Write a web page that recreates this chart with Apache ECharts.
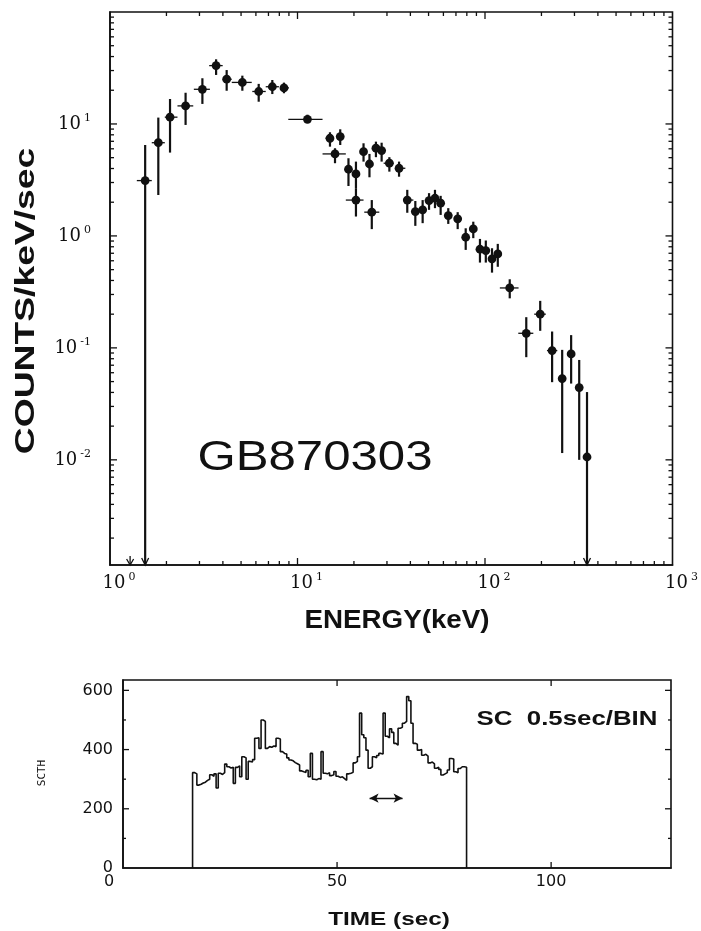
<!DOCTYPE html>
<html>
<head>
<meta charset="utf-8">
<title>GB870303</title>
<script src="https://cdn.jsdelivr.net/npm/echarts@6/dist/echarts.min.js"></script>
<style>
  html, body { margin: 0; padding: 0; background: #fff; }
  #chart { width: 701px; height: 931px; }
</style>
</head>
<body>
<div id="chart"></div>
<script>
// ---- Energy spectrum of GB870303 ----
// bin centre (keV), rate (counts/keV/sec), 1-sigma range, energy bin edges
const specEnergy = [1.54, 1.81, 2.09, 2.53, 3.11, 3.68, 4.19, 5.08, 6.21, 7.34, 8.47, 11.3,
  14.9, 15.85, 16.9, 18.7, 20.5, 20.5, 22.5, 24.2, 24.9, 26.2, 28.1, 30.9, 34.8, 38.5,
  42.5, 46.5, 50.3, 54.1, 58.0, 63.7, 71.5, 78.9, 86.6, 94.0, 101, 109, 117, 135.5,
  166, 197, 228, 258, 288, 318, 350];
const specRate = [3.12, 6.8, 11.5, 14.5, 20.4, 33.2, 25.1, 23.5, 19.5, 21.5, 21.0, 11.0,
  7.45, 5.4, 7.71, 3.94, 3.58, 2.09, 5.66, 4.39, 1.63, 6.07, 5.78, 4.46, 4.02, 2.09,
  1.65, 1.71, 2.07, 2.17, 1.96, 1.52, 1.42, 0.973, 1.155, 0.76, 0.74, 0.624, 0.69, 0.343,
  0.135, 0.2, 0.0946, 0.0532, 0.0883, 0.0442, 0.0106];
// null: the lower error reaches below the plotted range (drawn as an arrow)
const rateLow = [null, 2.32, 5.55, 9.8, 15.1, 27.4, 19.8, 19.8, 15.8, 18.5, 18.8, 10.2,
  6.27, 4.46, 6.49, 2.79, 2.67, 1.49, 4.61, 3.34, 1.15, 5.05, 4.61, 3.75, 3.38, 1.61,
  1.23, 1.30, 1.71, 1.77, 1.54, 1.28, 1.15, 0.75, 0.955, 0.578, 0.578, 0.47, 0.53, 0.277,
  0.0826, 0.142, 0.0494, 0.0115, 0.048, 0.01, null];
const rateHigh = [6.49, 11.4, 16.7, 19.0, 25.6, 37.8, 30.3, 27.0, 22.8, 24.7, 23.4, 12.1,
  8.43, 6.07, 8.96, 4.94, 4.61, 2.67, 6.72, 5.4, 2.09, 6.95, 6.8, 5.05, 4.61, 2.58,
  2.05, 2.09, 2.41, 2.58, 2.28, 1.77, 1.63, 1.17, 1.34, 0.94, 0.91, 0.776, 0.849, 0.41,
  0.188, 0.263, 0.14, 0.096, 0.13, 0.078, 0.0403];
const binLow = [1.39, 1.67, 1.96, 2.29, 2.80, 3.38, 3.99, 4.46, 5.74, 6.77, 8.07, 8.93,
  14.1, 13.6, 16.2, 18.0, 19.9, 18.1, 21.6, 23.2, 22.7, 25.0, 27.5, 28.8, 33.1, 36.9,
  42.5, 46.5, 50.3, 54.1, 58.0, 63.7, 71.5, 78.9, 86.6, 94.0, 101, 109, 117, 120,
  150.5, 183, 214, 258, 288, 318, 350];
const binHigh = [1.67, 1.96, 2.29, 2.78, 3.41, 3.99, 4.46, 5.70, 6.77, 7.96, 9.0, 13.6,
  15.6, 18.1, 17.6, 19.4, 21.4, 22.5, 23.3, 25.0, 27.3, 27.3, 28.7, 32.6, 37.6, 41.5,
  42.5, 46.5, 50.3, 54.1, 58.0, 63.7, 71.5, 78.9, 86.6, 94.0, 101, 109, 117, 151,
  181, 211, 243, 258, 288, 318, 350];
// channel with only an upper limit below the plotted range
const limitOnlyEnergy = [1.28];

const energyMin = 1, energyMax = 1000;
const rateMin = 0.00115, rateMax = 100;
const energyTicks = [10, 100];
const rateTicks = [0.01, 0.1, 1, 10];

// ---- Light curve, SC detector, 0.5 s bins ----
const curveStart = 16.25;
const binWidth = 0.5;
const curveCounts = [
  322, 318, 280, 283, 287, 290, 296, 300, 315, 310,
  318, 270, 320, 316, 322, 351, 342, 338, 340, 286,
  340, 345, 308, 376, 372, 300, 360, 358, 366, 438,
  440, 404, 500, 495, 404, 410, 408, 412, 410, 438,
  436, 393, 387, 385, 372, 365, 362, 356, 352, 348,
  328, 325, 323, 330, 308, 387, 300, 298, 302, 300,
  393, 320, 318, 322, 312, 315, 326, 310, 306, 308,
  302, 296, 318, 320, 323, 355, 360, 376, 523, 450,
  440, 398, 337, 342, 376, 372, 380, 387, 385, 523,
  445, 440, 470, 458, 421, 415, 472, 475, 489, 495,
  579, 565, 489, 421, 418, 398, 400, 381, 384, 378,
  355, 358, 352, 337, 340, 333, 314, 318, 322, 331,
  370, 368, 325, 322, 336, 342, 342, 340];
// interval used for the spectrum
const accumWindow = [57.6, 65.3];
const accumLevel = 236;

const timeMin = 0, timeMax = 128, timeStep = 50;
const countMin = 0, countMax = 635, countStep = 200;
const timeTicks = [50, 100];
const countTicks = [200, 400, 600];
const countMinorTicks = [100, 300, 500];

// ---- derived series data ----
const spectrumData = specEnergy.map((e, i) => [
  e, specRate[i], rateLow[i] == null ? 0 : rateLow[i], rateHigh[i], binLow[i], binHigh[i]
]);
const limitData = limitOnlyEnergy.map(e => [e, rateMin]);

// [x, y, side (0 = horizontal axes, 1 = vertical axes), tick length]
const specTickData = [];
energyTicks.forEach(v => specTickData.push([v, 1, 0, 7]));
rateTicks.forEach(v => specTickData.push([2, v, 1, 7]));
[1, 10, 100].forEach(d => { for (let m = 2; m <= 9; m++) specTickData.push([m * d, 1, 0, 4]); });
[0.001, 0.01, 0.1, 1, 10].forEach(d => {
  for (let m = 2; m <= 9; m++) { const v = m * d; if (v > rateMin) specTickData.push([2, v, 1, 4]); }
});
const curveTickData = [];
timeTicks.forEach(v => curveTickData.push([v, 300, 0, 6]));
countTicks.forEach(v => curveTickData.push([60, v, 1, 6]));
countMinorTicks.forEach(v => curveTickData.push([60, v, 1, 3]));

const curveData = [[curveStart, 0]];
curveCounts.forEach((c, i) => curveData.push([curveStart + i * binWidth, c]));
curveData.push([curveStart + curveCounts.length * binWidth, 0]);

// ---- drawing helpers ----
const INK = '#111';

function isDecade(v) {
  const l = Math.log10(v);
  return Math.abs(l - Math.round(l)) < 1e-6;
}
function energyLabel(v) {
  if (!isDecade(v)) return '';
  return '{sp| }{b|10}{s|' + Math.round(Math.log10(v)) + '}';
}
function rateLabel(v) {
  if (!isDecade(v) || v > 50) return '';
  return '{b|10}{s|' + Math.round(Math.log10(v)) + '}';
}
const powRich = {
  b: { fontFamily: '"DejaVu Serif", serif', fontSize: 18, color: INK, lineHeight: 22 },
  s: { fontFamily: '"DejaVu Serif", serif', fontSize: 11, color: INK, lineHeight: 11, verticalAlign: 'top', padding: [0, 0, 0, 3] },
  sp: { fontSize: 10, width: 18 }
};

function drawSpectrumPoint(params, api) {
  const cs = params.coordSys;
  const bottom = cs.y + cs.height;
  const e = api.value(0), r = api.value(1), lo = api.value(2), hi = api.value(3);
  const bl = api.value(4), bh = api.value(5);
  const c = api.coord([e, r]);
  const top = api.coord([e, hi])[1];
  const low = lo > 0 ? api.coord([e, lo])[1] : bottom;
  const kids = [{
    type: 'line', shape: { x1: c[0], y1: top, x2: c[0], y2: low },
    style: { stroke: INK, lineWidth: 2.2 }
  }];
  const xl = api.coord([bl, r])[0], xh = api.coord([bh, r])[0];
  if (xh - xl > 1) {
    kids.push({ type: 'line', shape: { x1: xl, y1: c[1], x2: xh, y2: c[1] },
      style: { stroke: INK, lineWidth: 1.3 } });
  }
  if (!(lo > 0)) {
    kids.push({ type: 'polyline',
      shape: { points: [[c[0] - 3.5, bottom - 7], [c[0], bottom], [c[0] + 3.5, bottom - 7]] },
      style: { stroke: INK, lineWidth: 1.3, fill: null } });
  }
  kids.push({ type: 'circle', shape: { cx: c[0], cy: c[1], r: 4.4 }, style: { fill: INK } });
  return { type: 'group', children: kids };
}

function drawLimitArrow(params, api) {
  const p = api.coord([api.value(0), api.value(1)]);
  return { type: 'group', children: [
    { type: 'line', shape: { x1: p[0], y1: p[1] - 9, x2: p[0], y2: p[1] }, style: { stroke: INK, lineWidth: 1.3 } },
    { type: 'polyline', shape: { points: [[p[0] - 3.5, p[1] - 6], [p[0], p[1]], [p[0] + 3.5, p[1] - 6]] },
      style: { stroke: INK, lineWidth: 1.3, fill: null } }
  ] };
}

// inward ticks on both opposite sides of the frame
function drawFrameTick(params, api) {
  const cs = params.coordSys;
  const p = api.coord([api.value(0), api.value(1)]);
  const side = api.value(2), len = api.value(3);
  const st = { stroke: INK, lineWidth: 1.3 };
  if (side === 0) {
    const b = cs.y + cs.height;
    return { type: 'group', children: [
      { type: 'line', shape: { x1: p[0], y1: b, x2: p[0], y2: b - len }, style: st },
      { type: 'line', shape: { x1: p[0], y1: cs.y, x2: p[0], y2: cs.y + len }, style: st }
    ] };
  }
  const r = cs.x + cs.width;
  return { type: 'group', children: [
    { type: 'line', shape: { x1: cs.x, y1: p[1], x2: cs.x + len, y2: p[1] }, style: st },
    { type: 'line', shape: { x1: r, y1: p[1], x2: r - len, y2: p[1] }, style: st }
  ] };
}

const axisLine = { show: true, lineStyle: { color: INK, width: 1.6 } };
const noTick = { show: false };

const option = {
  animation: false,
  backgroundColor: '#fff',
  grid: [
    { left: 110, top: 12, width: 562.5, height: 553, show: true, borderColor: INK, borderWidth: 1.6 },
    { left: 123, top: 680, width: 548, height: 188, show: true, borderColor: INK, borderWidth: 1.6 }
  ],
  xAxis: [
    { type: 'log', logBase: 10, gridIndex: 0, min: energyMin, max: energyMax, position: 'bottom',
      axisLine, axisTick: noTick, splitLine: { show: false },
      axisLabel: { margin: 7, formatter: energyLabel, rich: powRich } },
    { type: 'value', gridIndex: 1, min: timeMin, max: timeMax, interval: timeStep, position: 'bottom',
      axisLine, axisTick: noTick, splitLine: { show: false },
      axisLabel: { margin: 6, color: INK, fontFamily: '"DejaVu Sans", sans-serif', fontSize: 16,
        formatter: v => (v === 0 ? '{z|0}' : (v % timeStep === 0 ? String(v) : '')),
        rich: { z: { fontFamily: '"DejaVu Sans", sans-serif', fontSize: 16, color: INK, padding: [0, 28, 0, 0] } } } }
  ],
  yAxis: [
    { type: 'log', logBase: 10, gridIndex: 0, min: rateMin, max: rateMax, position: 'left',
      axisLine, axisTick: noTick, splitLine: { show: false },
      axisLabel: { margin: 19, formatter: rateLabel, rich: powRich } },
    { type: 'value', gridIndex: 1, min: countMin, max: countMax, interval: countStep, position: 'left',
      axisLine, axisTick: noTick, splitLine: { show: false },
      axisLabel: { margin: 10, color: INK, fontFamily: '"DejaVu Sans", sans-serif', fontSize: 16,
        formatter: v => (v % countStep === 0 ? String(v) : '') } }
  ],
  series: [
    { type: 'custom', name: 'frame ticks', xAxisIndex: 0, yAxisIndex: 0, renderItem: drawFrameTick,
      encode: { x: 0, y: 1 }, data: specTickData, silent: true },
    { type: 'custom', name: 'spectrum', xAxisIndex: 0, yAxisIndex: 0, renderItem: drawSpectrumPoint,
      encode: { x: 0, y: 1 }, data: spectrumData, silent: true },
    { type: 'custom', name: 'limits', xAxisIndex: 0, yAxisIndex: 0, renderItem: drawLimitArrow,
      encode: { x: 0, y: 1 }, data: limitData, silent: true },
    { type: 'custom', name: 'curve ticks', xAxisIndex: 1, yAxisIndex: 1, renderItem: drawFrameTick,
      encode: { x: 0, y: 1 }, data: curveTickData, silent: true },
    { type: 'line', name: 'SC', xAxisIndex: 1, yAxisIndex: 1, data: curveData, step: 'end',
      showSymbol: false, silent: true, lineStyle: { color: INK, width: 1.6 },
      markLine: {
        silent: true, symbol: ['arrow', 'arrow'], symbolSize: [7, 9],
        label: { show: false },
        lineStyle: { color: INK, width: 1.3, type: 'solid' },
        data: [[{ coord: [accumWindow[0], accumLevel] }, { coord: [accumWindow[1], accumLevel] }]]
      } }
  ],
  graphic: [
    { type: 'text', x: 26, y: 301, rotation: Math.PI / 2, scaleX: 1.33,
      style: { text: 'COUNTS/keV/sec', font: 'bold 28px "Liberation Sans", Arial, sans-serif', fill: INK,
        align: 'center', verticalAlign: 'middle' } },
    { type: 'text', x: 397, y: 621, scaleX: 1.11,
      style: { text: 'ENERGY(keV)', font: 'bold 25px "Liberation Sans", Arial, sans-serif', fill: INK,
        align: 'center', verticalAlign: 'middle' } },
    { type: 'text', x: 315, y: 458, scaleX: 1.17,
      style: { text: 'GB870303', font: '42px "Liberation Sans", Arial, sans-serif', fill: INK,
        align: 'center', verticalAlign: 'middle' } },
    { type: 'text', x: 567, y: 719, scaleX: 1.23,
      style: { text: 'SC  0.5sec/BIN', font: 'bold 21px "Liberation Sans", Arial, sans-serif', fill: INK,
        align: 'center', verticalAlign: 'middle' } },
    { type: 'text', x: 42, y: 773, rotation: Math.PI / 2,
      style: { text: 'SCTH', font: '11px "DejaVu Sans Mono", monospace', fill: INK,
        align: 'center', verticalAlign: 'middle' } },
    { type: 'text', x: 389, y: 920, scaleX: 1.28,
      style: { text: 'TIME (sec)', font: 'bold 19px "Liberation Sans", Arial, sans-serif', fill: INK,
        align: 'center', verticalAlign: 'middle' } }
  ]
};

const chart = echarts.init(document.getElementById('chart'), null, { renderer: 'canvas' });
chart.setOption(option);
</script>
</body>
</html>
